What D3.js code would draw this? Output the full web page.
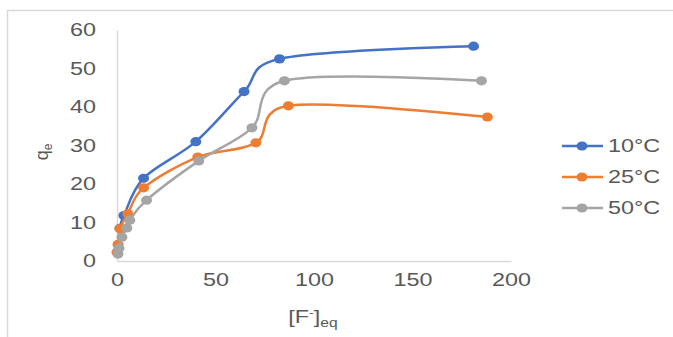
<!DOCTYPE html>
<html><head><meta charset="utf-8">
<script src="https://cdn.jsdelivr.net/npm/d3@7"></script>
<style>body{margin:0;background:#fff}svg{display:block}text{font-family:"Liberation Sans",Arial,sans-serif}</style>
</head><body><svg id="c" width="673" height="337"></svg>
<script>
const seriesNames = ["10°C", "25°C", "50°C"];
const colors = ["#4472C4", "#ED7D31", "#A5A5A5"];
const x10 = [1.5, 3.5, 13.5, 40, 64.5, 82.5, 181];
const y10 = [8.5, 11.8, 21.5, 31, 44, 52.5, 55.8];
const x25 = [0, 0.5, 1.5, 5.5, 13.5, 41, 70.5, 87, 188];
const y25 = [2.3, 4.3, 8.4, 12.3, 19, 27, 30.7, 40.3, 37.4];
const x50 = [0.5, 1, 2.5, 5, 6.5, 15, 41.5, 68.5, 85, 185];
const y50 = [1.8, 3.3, 6.2, 8.6, 10.6, 15.8, 26, 34.6, 46.8, 46.8];
const xTicks = [0, 50, 100, 150, 200];
const yTicks = [0, 10, 20, 30, 40, 50, 60];

const SX = 1.3;

const series = [[x10, y10], [x25, y25], [x50, y50]].map((s, i) => ({
  name: seriesNames[i], color: colors[i],
  pts: s[0].map((v, j) => [v, s[1][j]])
}));

const svg = d3.select("#c");
const grey = "#d9d9d9";
svg.append("path").attr("d", "M7.5,337V10.5H673").attr("fill", "none").attr("stroke", grey).attr("stroke-width", 1.5);

const x = d3.scaleLinear().domain([0, 200]).range([117, 511]);
const y = d3.scaleLinear().domain([0, 60]).range([261, 30]);

function stretch(sel, ax, ay) {
  sel.attr("transform", function () {
    const cx = ax != null ? ax : +d3.select(this).attr("x") || 0;
    const cy = ay != null ? ay : 0;
    return `translate(${cx},${cy}) scale(${SX},1) translate(${-cx},${-cy})`;
  });
}

const xAxis = svg.append("g").attr("transform", "translate(0,261)")
  .call(d3.axisBottom(x).tickValues(xTicks).tickSize(0).tickPadding(12));
const yAxis = svg.append("g").attr("transform", "translate(117,0)")
  .call(d3.axisLeft(y).tickValues(yTicks).tickSize(0).tickPadding(21));
[xAxis, yAxis].forEach(a => {
  a.select(".domain").attr("stroke", grey).attr("stroke-width", 1.5);
  a.selectAll("text").attr("font-size", 18).attr("fill", "#595959").attr("font-family", "Liberation Sans, Arial, sans-serif");
});
xAxis.selectAll("text").attr("dy", "0.71em");
stretch(xAxis.selectAll("text"), 0, 0);
stretch(yAxis.selectAll("text"));

const xt = svg.append("text").attr("x", 313).attr("y", 323).attr("text-anchor", "middle")
  .attr("font-size", 18).attr("fill", "#595959");
xt.append("tspan").text("[F");
xt.append("tspan").text("-").attr("font-size", 11).attr("dy", -7);
xt.append("tspan").text("]").attr("dy", 7);
xt.append("tspan").text("eq").attr("font-size", 12).attr("dy", 4);
stretch(xt, 313, 0);

const ytg = svg.append("g").attr("transform", "translate(48,152) rotate(-90)");
const yt = ytg.append("text").attr("text-anchor", "middle").attr("font-size", 18).attr("fill", "#595959");
yt.append("tspan").text("q");
yt.append("tspan").text("e").attr("font-size", 12).attr("dy", 4);

const line = d3.line().x(d => x(d[0])).y(d => y(d[1])).curve(d3.curveCatmullRom.alpha(0.1));
series.forEach(s => {
  const g = svg.append("g");
  g.append("path").attr("d", line(s.pts)).attr("fill", "none").attr("stroke", s.color).attr("stroke-width", 2.5);
  g.selectAll("ellipse").data(s.pts).join("ellipse")
    .attr("cx", d => x(d[0])).attr("cy", d => y(d[1])).attr("rx", 5.5).attr("ry", 4.6).attr("fill", s.color);
});

const ly = [146, 177, 208];
series.forEach((s, i) => {
  const g = svg.append("g").attr("transform", `translate(0,${ly[i]})`);
  g.append("line").attr("x1", 562).attr("x2", 603).attr("stroke", s.color).attr("stroke-width", 2.5);
  g.append("ellipse").attr("cx", 582).attr("rx", 5.5).attr("ry", 4.6).attr("fill", s.color);
  const t = g.append("text").attr("x", 608).attr("dy", "0.35em").attr("font-size", 18).attr("fill", "#595959").text(s.name);
  stretch(t, 608, 0);
});
</script></body></html>
